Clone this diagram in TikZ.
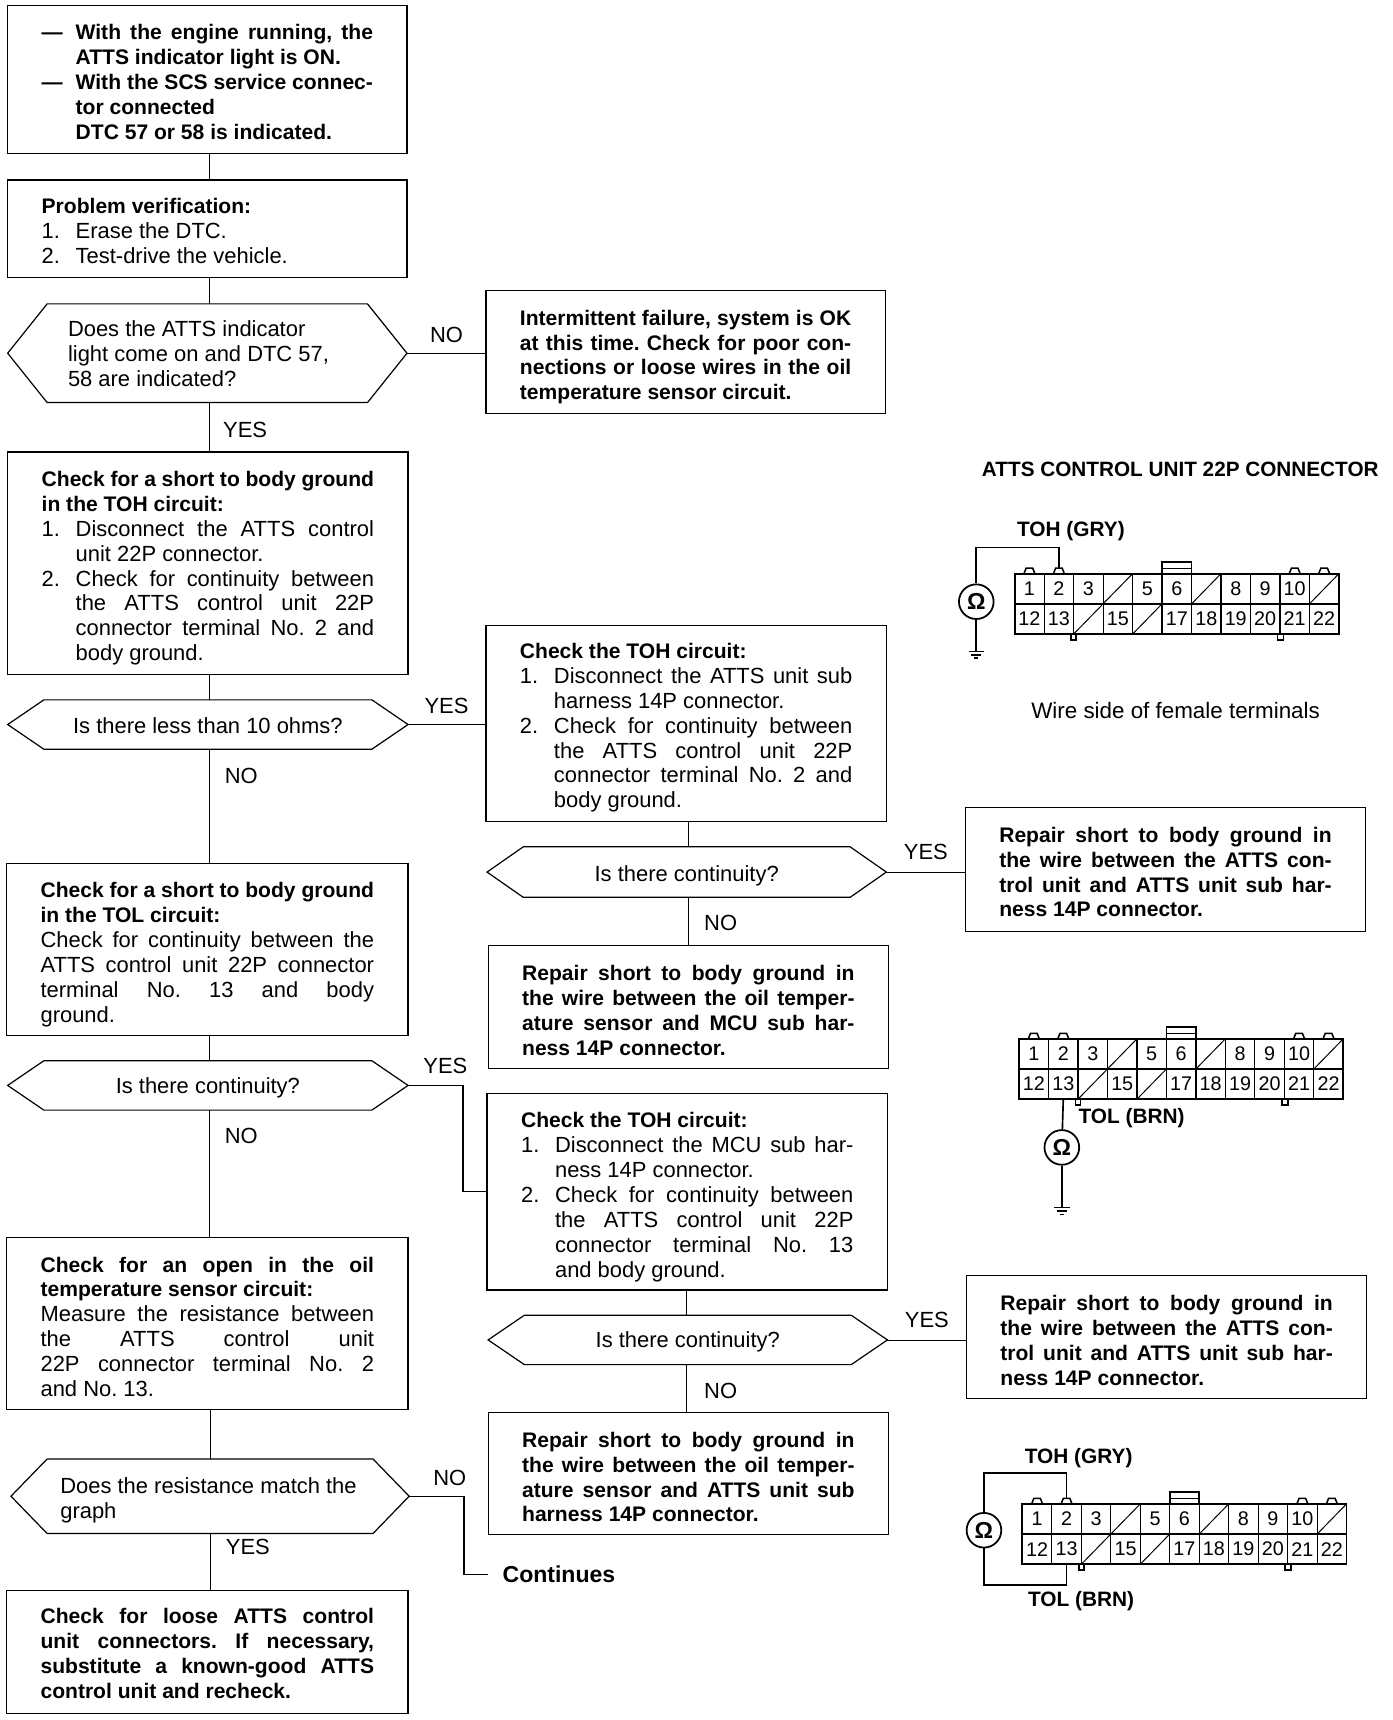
\documentclass[tikz,border=0pt]{standalone}
\usepackage{fontspec}
\setmainfont{Liberation Sans}
\usetikzlibrary{calc}
\newcommand\Jl[1]{\makebox[\hsize][s]{#1}}
\newcommand\Nn[2]{\makebox[31pt][l]{#1}#2}
\newcommand\Nj[2]{\makebox[31pt][l]{#1}\makebox[\dimexpr\hsize-31pt\relax][s]{#2}}
\newcommand\In[1]{\makebox[31pt][l]{}#1}
\newcommand\Ij[1]{\makebox[31pt][l]{}\makebox[\dimexpr\hsize-31pt\relax][s]{#1}}
\newcommand\Bf{\fontsize{19.2}{22.7}\selectfont\bfseries}
\newcommand\Sp{\spaceskip=0pt\xspaceskip=0pt\frenchspacing\relax}
\tikzset{
  wire/.style={line width=1.1pt,draw=black},
  thinw/.style={line width=.7pt,draw=black},
  boxn/.style={draw=black,line width=1.1pt,rectangle,anchor=north west,inner sep=0pt,outer sep=0pt},
  reg/.style={font=\fontsize{20}{22.7}\selectfont},
  bld/.style={font=\Bf},
  txtn/.style={inner sep=0pt,align=left,anchor=center},
  hexn/.style={rectangle,anchor=north west,inner sep=0pt,outer sep=0pt},
  lab/.style={inner sep=0pt,font=\fontsize{20}{22}\selectfont},
  blab/.style={inner sep=0pt,font=\fontsize{19}{22}\selectfont\bfseries},
  pin/.style={inner sep=0pt,font=\fontsize{18}{20}\selectfont},
  meter/.style={circle,draw=black,line width=1.6pt,minimum size=31.6pt,inner sep=0pt,fill=white,font=\fontsize{21}{21}\selectfont\bfseries},
  conline/.style={draw=black,line width=1.1pt},
  conout/.style={draw=black,line width=1.6pt}
}
% box: name x1 y1 x2 y2 yshift style text
\newcommand\bx[8]{%
  \pgfmathsetlengthmacro\bxW{#4-#2}%
  \pgfmathsetlengthmacro\bxH{#5-#3}%
  \pgfmathsetlengthmacro\bxT{#4-#2-62}%
  \node[boxn,minimum width=\bxW,minimum height=\bxH] (#1) at (#2,#3) {};
  \node[txtn,#7,text width=\bxT] (#1t) at ($(#1.center)+(0,#6)$) {\Sp #8};
}
% hexagon: name x1 y1 x2 y2 chamfer margin yshift text
\newcommand\hx[9]{%
  \pgfmathsetlengthmacro\bxW{#4-#2}%
  \pgfmathsetlengthmacro\bxH{#5-#3}%
  \pgfmathsetlengthmacro\bxT{#4-#2-2*#7}%
  \node[hexn,minimum width=\bxW,minimum height=\bxH] (#1) at (#2,#3) {};
  \node[txtn,reg,text width=\bxT] (#1t) at ($(#1.center)+(0,#8)$) {\Sp #9};
  \draw[wire] (#1.west) -- ($(#1.north west)+(#6,0)$) -- ($(#1.north east)-(#6,0)$) -- (#1.east)
     -- ($(#1.south east)-(#6,0)$) -- ($(#1.south west)+(#6,0)$) -- cycle;
}
\newcommand\gnd[1]{%
  \draw[line width=1.3pt] ($(#1)+(-7,0)$) -- ($(#1)+(7,0)$);
  \draw[line width=1.3pt] ($(#1)+(-4.5,3)$) -- ($(#1)+(4.5,3)$);
  \draw[line width=1.3pt] ($(#1)+(-2,6)$) -- ($(#1)+(2,6)$);
}
\newcommand\cn[3]{%
 \begin{scope}[shift={(#2,#3)}]
  \foreach \i in {1,...,10} \draw[conline] ({\i*26.87},0) -- ({\i*26.87},55);
  \draw[conout] (0,27.5) -- (295.6,27.5);
  \foreach \c in {1,2,10,11} \draw[conline,line width=1.4pt] ({(\c-.5)*26.87-5},0) -- ({(\c-.5)*26.87-3},-5) -- ({(\c-.5)*26.87+3},-5) -- ({(\c-.5)*26.87+5},0);
  \draw[conout] (134.35,0) -- (134.35,-11) -- (161.2,-11) -- (161.2,0);
  \draw[line width=.8pt] (135,-5) -- (160.5,-5);
  \draw[conline,line width=1.5pt] (51.5,55) -- (51.5,60.5) -- (56,60.5) -- (56,55);
  \draw[conline,line width=1.5pt] (239.5,55) -- (239.5,60.5) -- (245,60.5) -- (245,55);
  \foreach \c/\r in {4/0,7/0,11/0,3/1,5/1}
    \draw[line width=.9pt] ({(\c-1)*26.87},{(\r+1)*27.5}) -- ({\c*26.87},{\r*27.5});
  \foreach \n/\c/\r in {1/1/0,2/2/0,3/3/0,5/5/0,6/6/0,8/8/0,9/9/0,10/10/0,12/1/1,13/2/1,15/4/1,17/6/1,18/7/1,19/8/1,20/9/1,21/10/1,22/11/1}
    \node[pin] (#1-\n) at ({(\c-.5)*26.87},{(\r+.5)*27.5}) {\n};
  \draw[conout] (0,0) rectangle (295.6,55);
  \coordinate (#1-top) at ({1.5*26.87},-5);
  \coordinate (#1-bot) at ({1.5*26.87},55);
 \end{scope}
}
\begin{document}
\begin{tikzpicture}[x=1pt,y=-1pt]
\useasboundingbox (0,0) rectangle (1269,1568);
\fill[white] (0,0) rectangle (1269,1568);

\bx{b1}{7}{5}{371}{140}{2.5}{bld}{%
\Nj{---}{With the engine running, the}\\
\In{ATTS indicator light is ON.}\\
\Nj{---}{With the SCS service connec-}\\
\In{tor connected}\\
\In{DTC 57 or 58 is indicated.}}

\bx{b2}{7}{164}{371}{253}{2}{reg}{%
{\Bf Problem verification:}\\
\Nn{1.}{Erase the DTC.}\\
\Nn{2.}{Test-drive the vehicle.}}

\hx{h1}{7}{277}{371}{367}{36}{55}{0.5}{Does the ATTS indicator\\light come on and DTC 57,\\58 are indicated?}

\bx{b3}{443}{265}{807}{377}{4.5}{bld}{%
\Jl{Intermittent failure, system is OK}\\
\Jl{at this time. Check for poor con-}\\
\Jl{nections or loose wires in the oil}\\
temperature sensor circuit.}

\bx{b4}{7}{412}{372}{615}{4.5}{reg}{%
\Jl{\Bf Check for a short to body ground}\\
{\Bf in the TOH circuit:}\\
\Nj{1.}{Disconnect the ATTS control}\\
\In{unit 22P connector.}\\
\Nj{2.}{Check for continuity between}\\
\Ij{the ATTS control unit 22P}\\
\Ij{connector terminal No. 2 and}\\
\In{body ground.}}

\hx{h2}{7}{638}{372}{683}{33}{55}{1}{\makebox[\hsize][c]{Is there less than 10 ohms?}}

\bx{b5}{443}{570}{808}{749}{4}{reg}{%
{\Bf Check the TOH circuit:}\\
\Nj{1.}{Disconnect the ATTS unit sub}\\
\In{harness 14P connector.}\\
\Nj{2.}{Check for continuity between}\\
\Ij{the ATTS control unit 22P}\\
\Ij{connector terminal No. 2 and}\\
\In{body ground.}}

\hx{h3}{444}{772}{808}{818}{33}{55}{3}{\makebox[\hsize][c]{Is there continuity?}}

\bx{b6}{880}{736}{1245}{849}{2.5}{bld}{%
\Jl{Repair short to body ground in}\\
\Jl{the wire between the ATTS con-}\\
\Jl{trol unit and ATTS unit sub har-}\\
ness 14P connector.}

\bx{b7}{445}{862}{810}{974}{3}{bld}{%
\Jl{Repair short to body ground in}\\
\Jl{the wire between the oil temper-}\\
\Jl{ature sensor and MCU sub har-}\\
ness 14P connector.}

\bx{b8}{6}{787}{372}{944}{5}{reg}{%
\Jl{\Bf Check for a short to body ground}\\
{\Bf in the TOL circuit:}\\
\Jl{Check for continuity between the}\\
\Jl{ATTS control unit 22P connector}\\
\Jl{terminal No. 13 and body}\\
ground.}

\hx{h4}{7}{967}{372}{1012}{33}{55}{2}{\makebox[\hsize][c]{Is there continuity?}}

\bx{b9}{444}{997}{809}{1176}{5}{reg}{%
{\Bf Check the TOH circuit:}\\
\Nj{1.}{Disconnect the MCU sub har-}\\
\In{ness 14P connector.}\\
\Nj{2.}{Check for continuity between}\\
\Ij{the ATTS control unit 22P}\\
\Ij{connector terminal No. 13}\\
\In{and body ground.}}

\hx{h5}{445}{1199}{809}{1244}{33}{55}{2}{\makebox[\hsize][c]{Is there continuity?}}

\bx{b10}{881}{1163}{1246}{1275}{3}{bld}{%
\Jl{Repair short to body ground in}\\
\Jl{the wire between the ATTS con-}\\
\Jl{trol unit and ATTS unit sub har-}\\
ness 14P connector.}

\bx{b11}{445}{1288}{810}{1399}{3}{bld}{%
\Jl{Repair short to body ground in}\\
\Jl{the wire between the oil temper-}\\
\Jl{ature sensor and ATTS unit sub}\\
harness 14P connector.}

\bx{b12}{6}{1128}{372}{1285}{3}{reg}{%
\Jl{\Bf Check for an open in the oil}\\
{\Bf temperature sensor circuit:}\\
\Jl{Measure the resistance between}\\
\Jl{the ATTS control unit}\\
\Jl{22P connector terminal No. 2}\\
and No. 13.}

\hx{h6}{10}{1330}{373}{1398}{33}{45}{3.5}{Does the resistance match the\\graph}

\bx{b13}{6}{1450}{372}{1562}{1.5}{bld}{%
\Jl{Check for loose ATTS control}\\
\Jl{unit connectors. If necessary,}\\
\Jl{substitute a known-good ATTS}\\
control unit and recheck.}

% connectors
\draw[wire] ([xshift=2pt]b1.south) -- ([xshift=2pt]b2.north);
\draw[wire] ([xshift=2pt]b2.south) -- ([xshift=2pt]h1.north);
\draw[wire] (h1.east) -- (h1.east -| b3.west);
\draw[wire] ([xshift=2pt]h1.south) -- ([xshift=1.5pt]b4.north);
\draw[wire] ([xshift=1.5pt]b4.south) -- ([xshift=1.5pt]h2.north);
\draw[wire] (h2.east) -- (h2.east -| b5.west);
\draw[wire] ([xshift=1.5pt]h2.south) -- ([xshift=2pt]b8.north);
\draw[wire] ([xshift=2.5pt]b5.south) -- ([xshift=2pt]h3.north);
\draw[thinw] (h3.east) -- (h3.east -| b6.west);
\draw[wire] ([xshift=2pt]h3.south) -- ([xshift=0.5pt]b7.north);
\draw[wire] ([xshift=2pt]b8.south) -- ([xshift=1.5pt]h4.north);
\draw[wire] ([xshift=1.5pt]h4.south) -- ([xshift=2pt]b12.north);
\coordinate (k1) at (422,989.5);
\draw[wire] (h4.east) -- (k1) -- (k1 |- b9.west) -- (b9.west);
\draw[wire] ([xshift=-0.5pt]b9.south) -- ([xshift=-1pt]h5.north);
\draw[thinw] (h5.east) -- (h5.east -| b10.west);
\draw[wire] ([xshift=-1pt]h5.south) -- ([xshift=-1.5pt]b11.north);
\draw[wire] ([xshift=3pt]b12.south) -- ([xshift=0.5pt]h6.north);
\draw[wire] ([xshift=0.5pt]h6.south) -- ([xshift=3pt]b13.north);
\node[blab,anchor=west,font=\fontsize{21}{24}\selectfont\bfseries] (cont) at (458,1435) {Continues};
\coordinate (k2) at (423,1364);
\draw[wire] (h6.east) -- (k2) -- (k2 |- cont.west) -- ([xshift=-13pt]cont.west);

% flow labels
\node[lab] (l1) at (407,305) {NO};
\node[lab] (l2) at (223.5,391.5) {YES};
\node[lab] (l3) at (407,643.5) {YES};
\node[lab] (l4) at (220,707) {NO};
\node[lab] (l5) at (844,777) {YES};
\node[lab] (l6) at (657,841.5) {NO};
\node[lab] (l7) at (406,972) {YES};
\node[lab] (l8) at (220,1036) {NO};
\node[lab] (l9) at (845,1203) {YES};
\node[lab] (l10) at (657,1268) {NO};
\node[lab] (l11) at (410,1347) {NO};
\node[lab] (l12) at (226,1410.5) {YES};

% connector views
\node[blab,anchor=west,font=\fontsize{18.9}{22}\selectfont\bfseries] (t1) at (895,428) {ATTS CONTROL UNIT 22P CONNECTOR};
\node[lab,anchor=west,font=\fontsize{20.4}{22}\selectfont] (t2) at (940,648) {Wire side of female terminals};

\cn{ca}{925}{523}
\node[blab,anchor=west] (ca-l) at (927,484) {TOH (GRY)};
\node[meter] (ca-m) at (890,548.5) {Ω};
\coordinate (ca-g) at (890,594);
\coordinate (ca-u) at (890,499);
\draw[wire,line width=1.5pt] (ca-m) -- (ca-u) -- (ca-u -| ca-top) -- (ca-top);
\draw[wire,line width=1.5pt] (ca-m) -- (ca-g);
\gnd{ca-g}

\cn{cb}{929}{947}
\node[blab,anchor=west] (cb-l) at (983,1019.5) {TOL (BRN)};
\node[meter] (cb-m) at (968,1046) {Ω};
\coordinate (cb-g) at (968,1101);
\draw[wire,line width=1.5pt] (cb-bot) -- (cb-m);
\draw[wire,line width=1.5pt] (cb-m) -- (cb-g);
\gnd{cb-g}

\cn{cc}{932}{1371}
\node[blab,anchor=west] (cc-l) at (934,1329) {TOH (GRY)};
\node[blab,anchor=west] (cc-n) at (937,1460) {TOL (BRN)};
\node[meter] (cc-m) at (897,1395) {Ω};
\coordinate (cc-u) at (897,1343);
\coordinate (cc-d) at (897,1445);
\draw[wire,line width=1.5pt] (cc-m) -- (cc-u) -- (cc-u -| cc-top) -- (cc-top);
\draw[wire,line width=1.5pt] (cc-m) -- (cc-d) -- (cc-d -| cc-bot) -- (cc-bot);
\end{tikzpicture}
\end{document}
